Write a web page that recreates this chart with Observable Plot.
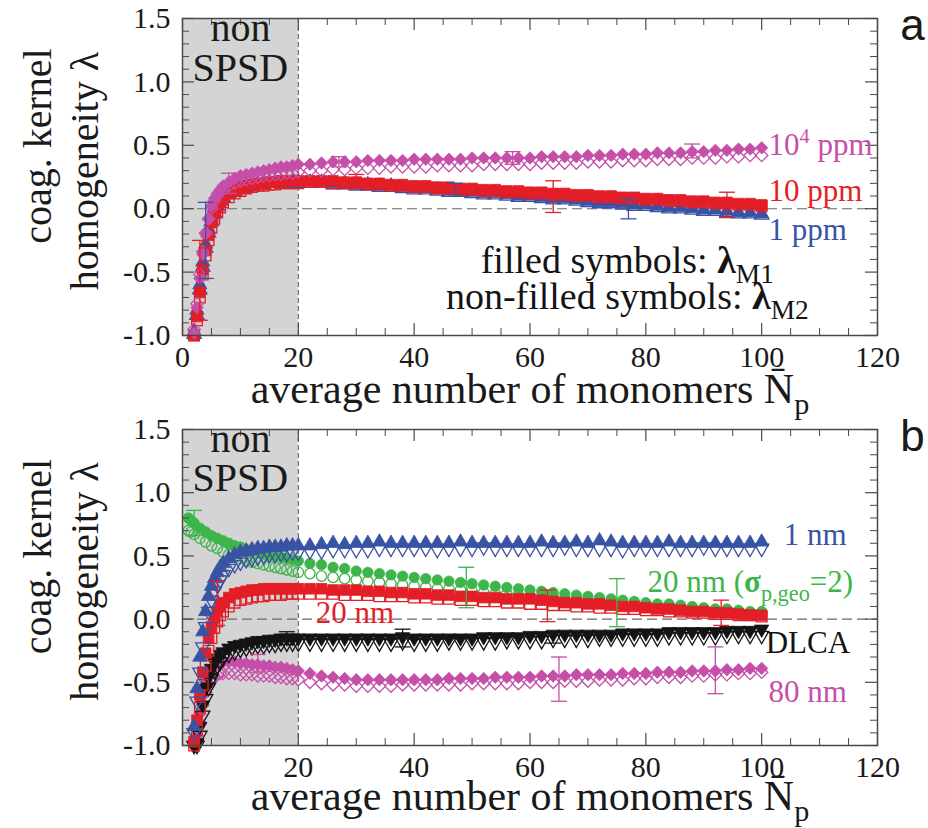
<!DOCTYPE html>
<html><head><meta charset="utf-8">
<script src="https://cdn.jsdelivr.net/npm/d3@7"></script>
<script src="https://cdn.jsdelivr.net/npm/@observablehq/plot@0.6"></script>
<style>
body{margin:0;background:#fff;}
#c{width:928px;}
#c svg{display:block;}
</style></head><body><div id="c"></div>
<script>
// ---------- DATA ----------
const xA = [2,2.5,3,3.5,4,4.5,5,5.5,6,6.5,7, 8,9,10,11,12,13,14,15,16,17,18,19,20,
  22,24,26,28,30,32,34,36,38,40, 42,44,46,48,50,52,54,56,58,60,
  62,64,66,68,70,72,74,76,78,80, 82,84,86,88,90,92,94,96,98,100];
const xB = xA;
const xBgreen = [1,1.5,2,3,4,5,6,7,8,9,10,11,12,13,14,15,16,17,18,19,20,
  22,24,26,28,30,32,34,36,38,40, 42,44,46,48,50,52,54,56,58,60,
  62,64,66,68,70,72,74,76,78,80, 82,84,86,88,90,92,94,96,98,100];

// panel a
const a_1e4ppm_M1 = [-0.98,-0.78,-0.55,-0.36,-0.20,-0.08,0.02,0.08,0.12,0.15,0.18,
  0.21,0.24,0.26,0.27,0.28,0.29,0.30,0.31,0.32,0.33,0.33,0.34,0.35,
  0.35,0.36,0.37,0.37,0.37,0.38,0.38,0.38,0.38,0.39, 0.39,0.39,0.39,0.39,0.40,0.40,0.40,0.40,0.40,0.40,
  0.41,0.41,0.41,0.41,0.42,0.42,0.42,0.43,0.43,0.43, 0.44,0.44,0.44,0.45,0.45,0.46,0.46,0.47,0.47,0.48];
const a_1e4ppm_M2 = [-0.95,-0.75,-0.52,-0.34,-0.19,-0.08,0.00,0.06,0.10,0.13,0.15,
  0.18,0.20,0.22,0.23,0.24,0.25,0.26,0.26,0.27,0.27,0.28,0.28,0.29,
  0.30,0.30,0.31,0.31,0.32,0.32,0.32,0.33,0.33,0.33, 0.33,0.34,0.34,0.34,0.34,0.35,0.35,0.35,0.35,0.35,
  0.36,0.36,0.36,0.36,0.37,0.37,0.37,0.38,0.38,0.38, 0.39,0.39,0.39,0.40,0.40,0.40,0.41,0.41,0.42,0.42];
const a_10ppm_M1 = [-1.00,-0.85,-0.66,-0.48,-0.33,-0.21,-0.11,-0.04,0.01,0.05,0.08,
  0.12,0.15,0.17,0.18,0.19,0.20,0.20,0.21,0.21,0.22,0.22,0.22,0.22,
  0.22,0.22,0.22,0.21,0.21,0.20,0.20,0.19,0.19,0.18, 0.18,0.17,0.17,0.16,0.16,0.15,0.15,0.14,0.14,0.13,
  0.13,0.12,0.12,0.11,0.11,0.10,0.10,0.09,0.09,0.08, 0.08,0.07,0.07,0.06,0.06,0.05,0.05,0.04,0.04,0.03];
const a_10ppm_M2 = [-1.00,-0.88,-0.70,-0.52,-0.37,-0.25,-0.15,-0.08,-0.03,0.01,0.05,
  0.09,0.12,0.14,0.16,0.17,0.18,0.18,0.19,0.19,0.20,0.20,0.20,0.20,
  0.21,0.21,0.20,0.20,0.20,0.19,0.19,0.18,0.18,0.17, 0.17,0.16,0.16,0.15,0.15,0.14,0.14,0.13,0.13,0.12,
  0.12,0.11,0.11,0.10,0.10,0.09,0.09,0.08,0.08,0.07, 0.07,0.06,0.06,0.05,0.05,0.04,0.04,0.03,0.03,0.02];
const a_1ppm_M1 = [-0.97,-0.80,-0.60,-0.42,-0.28,-0.16,-0.07,0.00,0.05,0.08,0.11,
  0.14,0.16,0.18,0.19,0.20,0.20,0.21,0.21,0.21,0.21,0.21,0.21,0.21,
  0.21,0.21,0.20,0.20,0.19,0.19,0.18,0.18,0.17,0.16, 0.16,0.15,0.14,0.14,0.13,0.12,0.12,0.11,0.10,0.10,
  0.09,0.08,0.08,0.07,0.06,0.05,0.05,0.04,0.03,0.03, 0.02,0.01,0.01,0.00,-0.01,-0.01,-0.02,-0.03,-0.03,-0.04];
const a_1ppm_M2 = [-0.99,-0.84,-0.64,-0.46,-0.31,-0.19,-0.10,-0.03,0.02,0.06,0.09,
  0.12,0.14,0.16,0.17,0.18,0.19,0.19,0.20,0.20,0.20,0.20,0.20,0.20,
  0.20,0.20,0.19,0.19,0.18,0.18,0.17,0.17,0.16,0.15, 0.15,0.14,0.13,0.13,0.12,0.11,0.11,0.10,0.09,0.09,
  0.08,0.07,0.07,0.06,0.05,0.04,0.04,0.03,0.02,0.02, 0.01,0.00,0.00,-0.01,-0.02,-0.02,-0.03,-0.04,-0.04,-0.05];

// panel b
const b_1nm_M1 = [-0.85,-0.55,-0.30,-0.10,0.06,0.18,0.26,0.32,0.37,0.41,0.44,
  0.48,0.51,0.53,0.54,0.55,0.56,0.56,0.57,0.57,0.57,0.58,0.58,0.58,
  0.58,0.59,0.60,0.59,0.60,0.60,0.61,0.60,0.60,0.60, 0.60,0.60,0.60,0.61,0.60,0.60,0.60,0.60,0.60,0.60,
  0.61,0.60,0.60,0.61,0.60,0.62,0.61,0.60,0.60,0.60, 0.60,0.61,0.60,0.60,0.60,0.60,0.60,0.60,0.60,0.61];
const b_1nm_M2 = [-0.90,-0.65,-0.42,-0.22,-0.06,0.06,0.15,0.22,0.27,0.31,0.35,
  0.40,0.43,0.45,0.47,0.48,0.49,0.50,0.51,0.51,0.52,0.52,0.53,0.53,
  0.54,0.54,0.55,0.55,0.55,0.55,0.56,0.56,0.56,0.56, 0.56,0.55,0.56,0.56,0.56,0.57,0.56,0.56,0.56,0.56,
  0.56,0.56,0.57,0.56,0.56,0.56,0.56,0.55,0.56,0.56, 0.56,0.56,0.56,0.56,0.57,0.56,0.56,0.56,0.56,0.56];
const b_20nmSig_M1 = [0.80,0.78,0.76,0.72,0.69,0.66,0.64,0.62,0.60,0.58,0.57,0.55,0.54,0.53,0.52,0.51,0.50,0.49,0.48,0.47,0.46,
  0.44,0.43,0.41,0.40,0.38,0.37,0.36,0.35,0.34,0.33, 0.32,0.31,0.30,0.29,0.28,0.27,0.26,0.25,0.24,0.23,
  0.22,0.21,0.20,0.19,0.18,0.17,0.16,0.15,0.14,0.13, 0.12,0.12,0.11,0.10,0.09,0.08,0.08,0.07,0.06,0.06];
const b_20nmSig_M2 = [0.70,0.69,0.67,0.64,0.61,0.58,0.56,0.53,0.51,0.49,0.48,0.46,0.45,0.44,0.43,0.42,0.41,0.40,0.39,0.38,0.37,
  0.36,0.34,0.33,0.32,0.31,0.30,0.29,0.28,0.27,0.26, 0.25,0.24,0.24,0.23,0.22,0.21,0.20,0.20,0.19,0.18,
  0.17,0.17,0.16,0.15,0.14,0.14,0.13,0.12,0.12,0.11, 0.10,0.10,0.09,0.08,0.08,0.07,0.06,0.06,0.05,0.04];
const b_20nm_M1 = [-0.97,-0.80,-0.60,-0.42,-0.27,-0.15,-0.06,0.01,0.06,0.10,0.13,
  0.17,0.20,0.21,0.22,0.23,0.23,0.24,0.24,0.24,0.24,0.24,0.24,0.24,
  0.24,0.24,0.23,0.23,0.23,0.22,0.22,0.21,0.21,0.20, 0.20,0.19,0.19,0.18,0.18,0.17,0.17,0.16,0.16,0.16,
  0.15,0.14,0.13,0.13,0.12,0.12,0.11,0.10,0.10,0.09, 0.08,0.08,0.07,0.06,0.06,0.05,0.05,0.04,0.03,0.03];
const b_20nm_M2 = [-1.00,-0.88,-0.70,-0.52,-0.37,-0.25,-0.15,-0.07,-0.02,0.03,0.06,
  0.10,0.13,0.15,0.16,0.17,0.18,0.18,0.19,0.19,0.19,0.20,0.20,0.20,
  0.20,0.20,0.20,0.19,0.19,0.19,0.18,0.18,0.18,0.17, 0.17,0.16,0.16,0.15,0.15,0.14,0.14,0.13,0.13,0.12,
  0.12,0.11,0.11,0.10,0.10,0.09,0.09,0.08,0.08,0.07, 0.07,0.06,0.06,0.05,0.05,0.04,0.04,0.03,0.03,0.02];
const b_DLCA_M1 = [-1.00,-0.98,-0.85,-0.68,-0.55,-0.46,-0.39,-0.34,-0.31,-0.28,-0.26,
  -0.23,-0.21,-0.20,-0.19,-0.18,-0.17,-0.17,-0.16,-0.16,-0.15,-0.15,-0.15,-0.15,
  -0.15,-0.15,-0.15,-0.15,-0.15,-0.15,-0.15,-0.15,-0.14,-0.15, -0.15,-0.15,-0.15,-0.15,-0.15,-0.14,-0.14,-0.14,-0.14,-0.13,
  -0.13,-0.12,-0.12,-0.12,-0.12,-0.12,-0.12,-0.11,-0.11,-0.11, -0.11,-0.10,-0.10,-0.10,-0.10,-0.10,-0.09,-0.09,-0.09,-0.08];
const b_DLCA_M2 = [-1.00,-1.00,-0.92,-0.76,-0.63,-0.54,-0.47,-0.41,-0.37,-0.34,-0.31,
  -0.28,-0.26,-0.24,-0.23,-0.22,-0.21,-0.21,-0.20,-0.20,-0.19,-0.19,-0.19,-0.19,
  -0.19,-0.19,-0.19,-0.19,-0.19,-0.19,-0.19,-0.19,-0.18,-0.19, -0.19,-0.19,-0.18,-0.18,-0.18,-0.18,-0.18,-0.17,-0.17,-0.17,
  -0.17,-0.16,-0.16,-0.16,-0.16,-0.15,-0.15,-0.15,-0.15,-0.15, -0.15,-0.14,-0.14,-0.14,-0.14,-0.14,-0.13,-0.13,-0.13,-0.13];
const b_80nm_M1 = [-1.00,-0.92,-0.75,-0.60,-0.50,-0.44,-0.40,-0.37,-0.35,-0.34,-0.34,
  -0.34,-0.34,-0.35,-0.35,-0.36,-0.36,-0.37,-0.37,-0.38,-0.38,-0.39,-0.40,-0.41,
  -0.43,-0.45,-0.46,-0.47,-0.48,-0.48,-0.48,-0.48,-0.48,-0.48, -0.48,-0.48,-0.47,-0.47,-0.47,-0.47,-0.46,-0.46,-0.46,-0.46,
  -0.45,-0.45,-0.45,-0.44,-0.44,-0.44,-0.44,-0.43,-0.43,-0.43, -0.42,-0.42,-0.42,-0.41,-0.41,-0.41,-0.40,-0.40,-0.39,-0.39];
const b_80nm_M2 = [-1.00,-0.96,-0.82,-0.68,-0.58,-0.52,-0.48,-0.46,-0.44,-0.43,-0.43,
  -0.43,-0.43,-0.44,-0.44,-0.44,-0.45,-0.45,-0.45,-0.46,-0.46,-0.47,-0.47,-0.48,
  -0.50,-0.51,-0.52,-0.52,-0.53,-0.53,-0.53,-0.53,-0.52,-0.52, -0.52,-0.52,-0.52,-0.52,-0.51,-0.51,-0.51,-0.51,-0.51,-0.50,
  -0.50,-0.50,-0.49,-0.49,-0.49,-0.48,-0.48,-0.48,-0.47,-0.47, -0.46,-0.46,-0.46,-0.45,-0.45,-0.44,-0.44,-0.43,-0.43,-0.42];

// error bars
const errA_x  = [3, 4, 8, 27, 30, 47, 57, 64, 77, 88, 94];
const errA_lo = [-0.88, -0.55, 0.12, 0.33, 0.16, 0.10, 0.35, -0.03, -0.08, 0.40, -0.07];
const errA_hi = [-0.25, 0.05, 0.28, 0.41, 0.27, 0.20, 0.45, 0.22, 0.08, 0.51, 0.13];
const errA_s  = ["red","blue","magenta","magenta","red","blue","magenta","red","blue","magenta","red"];
const errB_x  = [2, 6, 13, 18, 38, 49, 63, 64, 65, 75, 92, 93];
const errB_lo = [0.66, -0.05, -0.42, -0.20, -0.22, 0.09, -0.02, -0.19, -0.65, -0.06, -0.59, -0.05];
const errB_hi = [0.86, 0.30, -0.28, -0.10, -0.08, 0.41, 0.23, -0.10, -0.30, 0.32, -0.22, 0.15];
const errB_s  = ["green","red","magenta","black","black","green","red","black","magenta","green","magenta","red"];

// ticks and labels
const xMajor = [0,20,40,60,80,100,120];
const xMinor = [5,10,15,25,30,35,45,50,55,65,70,75,85,90,95,105,110,115];
const xLabA = [0,20,40,60,80,100,120];
const xLabB = [20,40,60,80,100,120];
const yMajor = [-1,-0.5,0,0.5,1,1.5];
const yMinor = [-0.9,-0.8,-0.7,-0.6,-0.4,-0.3,-0.2,-0.1,0.1,0.2,0.3,0.4,0.6,0.7,0.8,0.9,1.1,1.2,1.3,1.4];
const shade = {x1: 0, x2: 20};
const xTitle = "average number of monomers N\u0304_{p}";
const yTitle1 = "coag. kernel";
const yTitle2 = "homogeneity λ";

// ---------- STYLE ----------
const COLORS = {blue:"#3953A4", red:"#E31E27", magenta:"#C54FA8", green:"#3DB54A", black:"#141414"};
const RADIUS = {triangle:5.3, square:6.0, diamond2:5.6, circle:5.2};

const seriesA = [
  {x:xA, y:a_1ppm_M2, sym:"triangle", c:"blue", filled:false},
  {x:xA, y:a_1ppm_M1, sym:"triangle", c:"blue", filled:true},
  {x:xA, y:a_10ppm_M2, sym:"square", c:"red", filled:false},
  {x:xA, y:a_10ppm_M1, sym:"square", c:"red", filled:true},
  {x:xA, y:a_1e4ppm_M2, sym:"diamond2", c:"magenta", filled:false},
  {x:xA, y:a_1e4ppm_M1, sym:"diamond2", c:"magenta", filled:true}
];
const seriesB = [
  {x:xB, y:b_80nm_M2, sym:"diamond2", c:"magenta", filled:false},
  {x:xB, y:b_80nm_M1, sym:"diamond2", c:"magenta", filled:true},
  {x:xB, y:b_DLCA_M2, sym:"triangle", c:"black", filled:false, rot:180},
  {x:xB, y:b_DLCA_M1, sym:"triangle", c:"black", filled:true, rot:180},
  {x:xBgreen, y:b_20nmSig_M2, sym:"circle", c:"green", filled:false},
  {x:xBgreen, y:b_20nmSig_M1, sym:"circle", c:"green", filled:true},
  {x:xB, y:b_20nm_M2, sym:"square", c:"red", filled:false},
  {x:xB, y:b_20nm_M1, sym:"square", c:"red", filled:true},
  {x:xB, y:b_1nm_M2, sym:"triangle", c:"blue", filled:false, rot:180},
  {x:xB, y:b_1nm_M1, sym:"triangle", c:"blue", filled:true}
];
const labelsA = [
  {x:101.2, y:0.50, t:"10^{4} ppm", c:"magenta", fs:31, anchor:"start"},
  {x:101.2, y:0.14, t:"10 ppm", c:"red", fs:31, anchor:"start"},
  {x:101.2, y:-0.165, t:"1 ppm", c:"blue", fs:31, anchor:"start"},
  {x:76.8, y:-0.505, t:"filled symbols: !{λ}_{M1}", c:"black", fs:38, anchor:"middle"},
  {x:76.8, y:-0.79, t:"non-filled symbols: !{λ}_{M2}", c:"black", fs:38, anchor:"middle"}
];
const labelsB = [
  {x:103.8, y:0.665, t:"1 nm", c:"blue", fs:31, anchor:"start"},
  {x:80.3, y:0.29, t:"20 nm (!{σ}_{p,geo}=2)", c:"green", fs:31, anchor:"start"},
  {x:23, y:0.05, t:"20 nm", c:"red", fs:31, anchor:"start"},
  {x:100.7, y:-0.19, t:"DLCA", c:"black", fs:31, anchor:"start"},
  {x:101.2, y:-0.58, t:"80 nm", c:"magenta", fs:31, anchor:"start"}
];
const shadeText = [{x:10, y:1.32, t:"non"}, {x:10, y:1.01, t:"SPSD"}];

const W = 928, H = 414, mL = 182, mR = 51;
const capSymbol = {draw(ctx, size){ const w = Math.sqrt(size/Math.PI); ctx.moveTo(-w,0); ctx.lineTo(w,0); }};

function panel({mt, mb, series, err, labels, xLab, letter, titleDy}) {
  const innerH = H - mt - mb, innerW = W - mL - mR;
  const frameColor = "#4a4a4a";
  const marks = [
    Plot.rect([shade], {x1:"x1", x2:"x2", fill:"#d4d4d4"}),
    Plot.ruleX([shade.x2], {stroke:"#555", strokeDasharray:"5,3", strokeWidth:1}),
    Plot.ruleY([0], {stroke:"#6a6a6a", strokeDasharray:"10,5", strokeWidth:1.1})
  ];
  for (const s of series) {
    const rows = s.x.map((v,i)=>({x:v, y:s.y[i]}));
    const col = COLORS[s.c];
    marks.push(Plot.dot(rows, {x:"x", y:"y", symbol:s.sym, r:RADIUS[s.sym],
      fill: s.filled ? col : "none", stroke: col, strokeWidth: s.filled ? 0.8 : 1.3,
      rotate: s.rot || 0}));
  }
  marks.push(Plot.ruleX(err, {x:"x", y1:"lo", y2:"hi", stroke:d=>COLORS[d.c], strokeWidth:1.3}));
  marks.push(Plot.dot(err, {x:"x", y:"lo", symbol:capSymbol, r:8, stroke:d=>COLORS[d.c], fill:"none", strokeWidth:1.3}));
  marks.push(Plot.dot(err, {x:"x", y:"hi", symbol:capSymbol, r:8, stroke:d=>COLORS[d.c], fill:"none", strokeWidth:1.3}));
  marks.push(
    Plot.tickX(xMajor, {x:d=>d, insetTop:innerH-12, stroke:frameColor, strokeWidth:1.2}),
    Plot.tickX(xMajor, {x:d=>d, insetBottom:innerH-12, stroke:frameColor, strokeWidth:1.2}),
    Plot.tickX(xMinor, {x:d=>d, insetTop:innerH-7, stroke:frameColor, strokeWidth:1}),
    Plot.tickX(xMinor, {x:d=>d, insetBottom:innerH-7, stroke:frameColor, strokeWidth:1}),
    Plot.tickY(yMajor, {y:d=>d, insetRight:innerW-12, stroke:frameColor, strokeWidth:1.2}),
    Plot.tickY(yMajor, {y:d=>d, insetLeft:innerW-12, stroke:frameColor, strokeWidth:1.2}),
    Plot.tickY(yMinor, {y:d=>d, insetRight:innerW-7, stroke:frameColor, strokeWidth:1}),
    Plot.tickY(yMinor, {y:d=>d, insetLeft:innerW-7, stroke:frameColor, strokeWidth:1}),
    Plot.frame({stroke:frameColor, strokeWidth:1.5}),
    Plot.axisX({ticks:xLab, tickSize:0, tickPadding:10, tickFormat:d=>String(d), label:null, fontSize:30}),
    Plot.axisY({ticks:yMajor, tickSize:0, tickPadding:12, tickFormat:d=>d.toFixed(1), label:null, fontSize:30}),
    Plot.text(shadeText, {x:"x", y:"y", text:"t", fontSize:40, lineAnchor:"bottom", fill:"#1a1a1a"}),
    Plot.text(labels, {x:"x", y:"y", text:"t", fill:d=>COLORS[d.c], fontSize:d=>d.fs,
      textAnchor:"start", lineAnchor:"middle", filter:d=>d.anchor==="start"}),
    Plot.text(labels, {x:"x", y:"y", text:"t", fill:d=>COLORS[d.c], fontSize:d=>d.fs,
      textAnchor:"middle", lineAnchor:"bottom", filter:d=>d.anchor==="middle"}),
    Plot.text([xTitle], {text:d=>d, frameAnchor:"bottom", dy:titleDy, textAnchor:"middle", lineAnchor:"bottom", fontSize:42, fill:"#1a1a1a"}),
    Plot.text([yTitle1], {text:d=>d, frameAnchor:"left", rotate:-90, dx:-132, dy:-31, textAnchor:"middle", lineAnchor:"bottom", fontSize:40, fill:"#1a1a1a"}),
    Plot.text([yTitle2], {text:d=>d, frameAnchor:"left", rotate:-90, dx:-85, dy:-6, textAnchor:"middle", lineAnchor:"bottom", fontSize:40, fill:"#1a1a1a"}),
    Plot.text([letter], {text:d=>d, frameAnchor:"top-right", dx:35, dy:21, lineAnchor:"bottom", textAnchor:"middle",
      fontSize:44, fontFamily:"'Liberation Sans', Arial, sans-serif", fill:"#1a1a1a"})
  );
  return Plot.plot({
    width:W, height:H, marginLeft:mL, marginRight:mR, marginTop:mt, marginBottom:mb,
    x:{domain:[0,120]}, y:{domain:[-1,1.5]}, color:{type:"identity"},
    style:{fontFamily:"'Liberation Serif', 'Times New Roman', serif", fontSize:"30px", color:"#1a1a1a", background:"#fff", overflow:"visible"},
    marks
  });
}

function richify(svg) {
  svg.querySelectorAll("text").forEach(t => {
    const s = t.textContent;
    if (!/[_^!]\{/.test(s)) return;
    const fs = parseFloat(getComputedStyle(t).fontSize) || 30;
    t.textContent = "";
    const re = /([_^!])\{([^}]*)\}|([^_^!]+)/g;
    let m, cur = 0;
    while ((m = re.exec(s))) {
      const ts = document.createElementNS("http://www.w3.org/2000/svg", "tspan");
      let target = 0;
      if (m[1]) {
        ts.textContent = m[2];
        if (m[1] === "_") { target = 0.27 * fs; ts.setAttribute("font-size", (0.72*fs).toFixed(1)); }
        else if (m[1] === "^") { target = -0.38 * fs; ts.setAttribute("font-size", (0.65*fs).toFixed(1)); }
        else if (m[1] === "!") { ts.setAttribute("font-weight", "bold"); }
      } else {
        ts.textContent = m[3];
      }
      if (target !== cur) { ts.setAttribute("dy", (target - cur).toFixed(2)); cur = target; }
      t.appendChild(ts);
    }
  });
}

const c = document.getElementById("c");
const errRows = (xs, lo, hi, cs) => xs.map((x,i)=>({x, lo:lo[i], hi:hi[i], c:cs[i]}));
const pa = panel({mt:18, mb:79, series:seriesA, err:errRows(errA_x, errA_lo, errA_hi, errA_s), labels:labelsA, xLab:xLabA, letter:"a", titleDy:67});
const pb = panel({mt:15, mb:83, series:seriesB, err:errRows(errB_x, errB_lo, errB_hi, errB_s), labels:labelsB, xLab:xLabB, letter:"b", titleDy:64});
c.appendChild(pa); c.appendChild(pb);
richify(pa); richify(pb);
</script></body></html>
